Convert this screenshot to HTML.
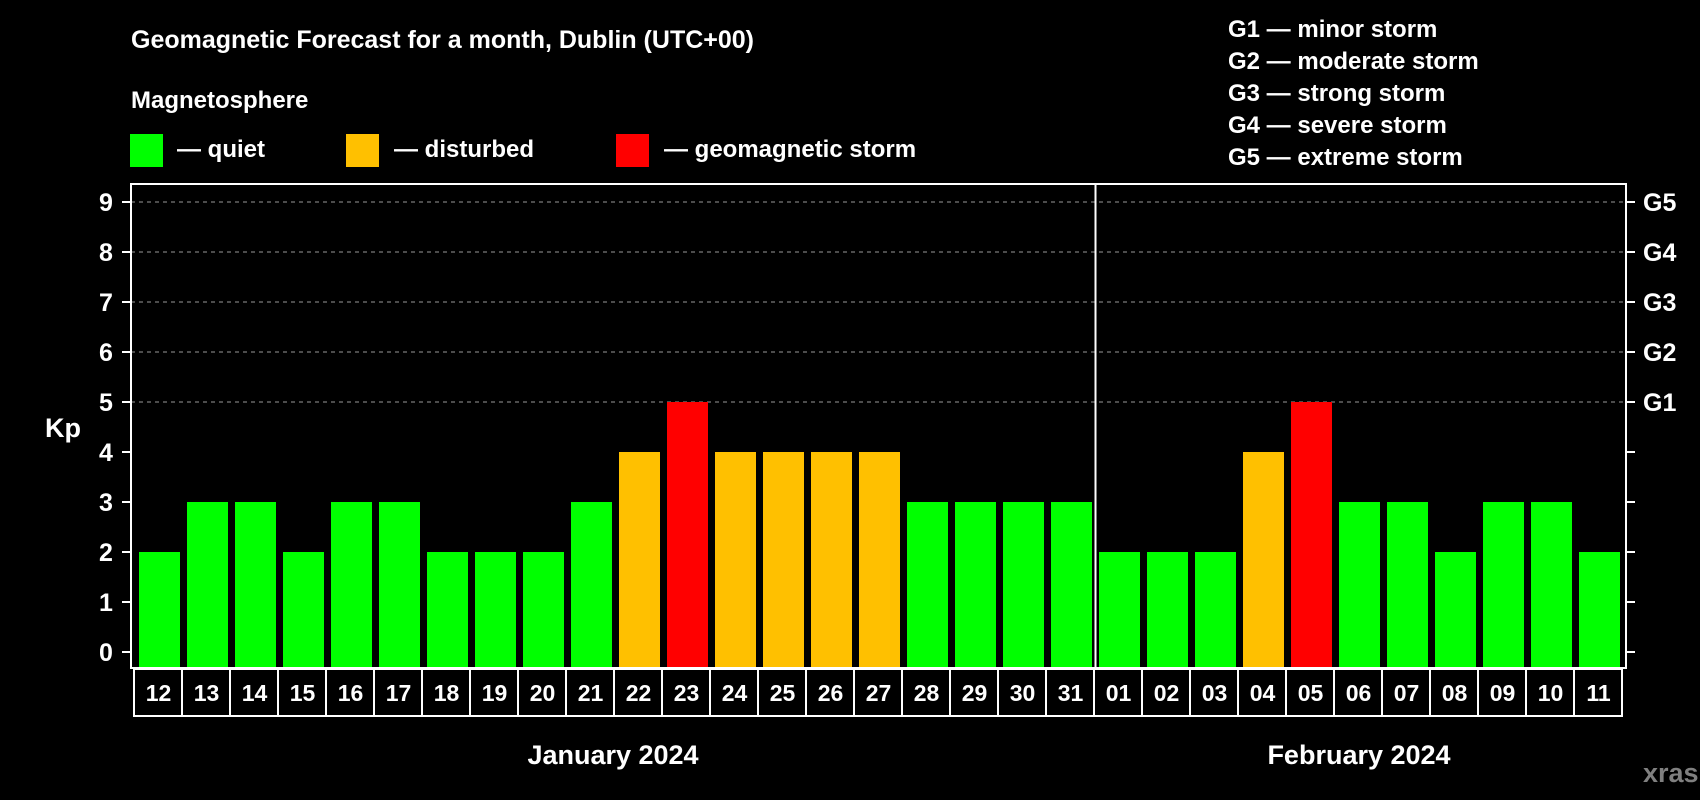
<!DOCTYPE html>
<html><head><meta charset="utf-8"><style>
body{margin:0;background:#000;width:1700px;height:800px;overflow:hidden}
svg{display:block;font-family:"Liberation Sans",Arial,sans-serif;font-weight:bold}
</style></head><body>
<svg id="c" width="1700" height="800">
<text x="131" y="48" fill="#fff" font-size="25">Geomagnetic Forecast for a month, Dublin (UTC+00)</text>
<text x="131" y="108" fill="#fff" font-size="24">Magnetosphere</text>
<rect x="130" y="134" width="33" height="33" fill="#00ff00"/>
<text x="177" y="157" fill="#fff" font-size="24">— quiet</text>
<rect x="346" y="134" width="33" height="33" fill="#ffc000"/>
<text x="394" y="157" fill="#fff" font-size="24">— disturbed</text>
<rect x="616" y="134" width="33" height="33" fill="#ff0000"/>
<text x="664" y="157" fill="#fff" font-size="24">— geomagnetic storm</text>
<g fill="#fff" font-size="24">
<text x="1228" y="37">G1 — minor storm</text>
<text x="1228" y="69">G2 — moderate storm</text>
<text x="1228" y="101">G3 — strong storm</text>
<text x="1228" y="133">G4 — severe storm</text>
<text x="1228" y="165">G5 — extreme storm</text>
</g>
<text x="63" y="437" fill="#fff" font-size="27" text-anchor="middle">Kp</text>
<text x="613" y="764" fill="#fff" font-size="27" text-anchor="middle">January 2024</text>
<text x="1359" y="764" fill="#fff" font-size="27" text-anchor="middle">February 2024</text>
<text x="1643" y="782" fill="#808080" font-size="27">xras.ru</text>
<g id="plot"></g>
</svg>
<script>
const days=["12","13","14","15","16","17","18","19","20","21","22","23","24","25","26","27","28","29","30","31","01","02","03","04","05","06","07","08","09","10","11"];
const kp=[2,3,3,2,3,3,2,2,2,3,4,5,4,4,4,4,3,3,3,3,2,2,2,4,5,3,3,2,3,3,2];
const yTicks=[0,1,2,3,4,5,6,7,8,9];
const gLabels=["G1","G2","G3","G4","G5"];
const NS="http://www.w3.org/2000/svg";
const g=document.getElementById('plot');
const L=131,R=1626,T=184,B=668,Y0=652,UNIT=50,X0=139,PITCH=48,BW=41;
const y=v=>Y0-v*UNIT;
const x=i=>X0+i*PITCH;
function mk(t,a){const e=document.createElementNS(NS,t);for(const k in a)e.setAttribute(k,a[k]);g.appendChild(e);return e;}
yTicks.forEach(v=>{
  if(v>=5){const l=mk('line',{x1:L,x2:R,y1:y(v),y2:y(v),stroke:'#999','stroke-dasharray':'4 4','stroke-width':1});
  
  }
  const t1=mk('line',{x1:L-9,x2:L,y1:y(v),y2:y(v),stroke:'#fff','stroke-width':2});
  
  
  const t2=mk('line',{x1:R,x2:R+9,y1:y(v),y2:y(v),stroke:'#fff','stroke-width':2});
  
  
  const tx=mk('text',{x:106,y:y(v)+9,fill:'#fff','font-size':25,'text-anchor':'middle'});
  tx.textContent=v;
  
  
});
gLabels.forEach((s,i)=>{
  const t=mk('text',{x:1643,y:y(5+i)+9,fill:'#fff','font-size':25});
  t.textContent=s;
  
  
});
kp.forEach((v,i)=>{
  const c=v>=5?'#ff0000':v>=4?'#ffc000':'#00ff00';
  const b=mk('rect',{x:x(i),y:y(v),width:BW,height:B-1-y(v),fill:c});
  
  
  const bx=mk('rect',{x:x(i)-5,y:669,width:PITCH,height:47,fill:'none',stroke:'#fff','stroke-width':2});
  
  
  const t=mk('text',{x:x(i)+BW/2-1,y:701,fill:'#fff','font-size':23,'text-anchor':'middle'});
  t.textContent=days[i];
  
  
});
const fr=mk('rect',{x:L,y:T,width:R-L,height:B-T,fill:'none',stroke:'#fff','stroke-width':2});


const dv=mk('line',{x1:x(20)-3.5,x2:x(20)-3.5,y1:T,y2:B,stroke:'#fff','stroke-width':2});


</script>
</body></html>
